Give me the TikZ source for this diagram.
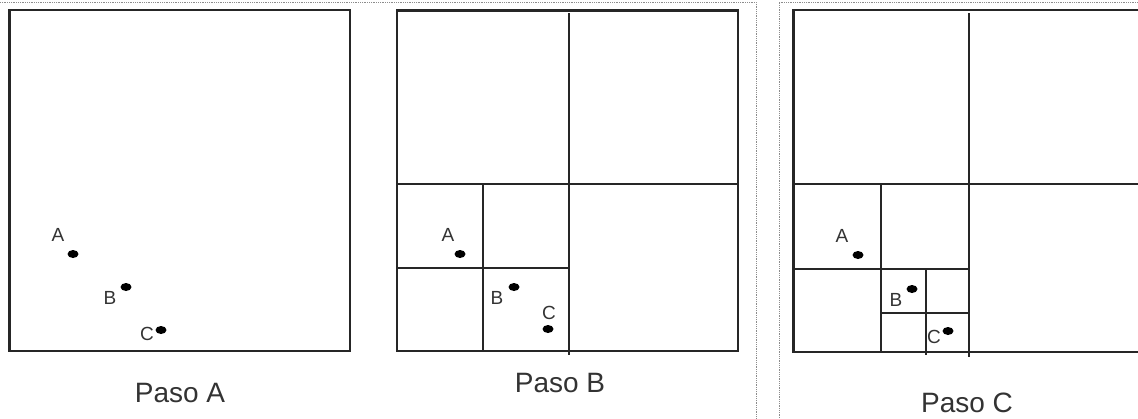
\documentclass[tikz,border=0pt]{standalone}
\usepackage{fontspec}
\setmainfont{Liberation Sans}
\usetikzlibrary{shapes.geometric}
\begin{document}
\begin{tikzpicture}[x=1pt,y=-1pt,
  grid/.style={line width=2.2pt,black!85},
  frame/.style={densely dotted,line width=0.8pt,black!45},
  pt/.style={ellipse,fill=black,minimum width=11pt,minimum height=8pt,inner sep=0pt},
  lbl/.style={inner sep=0pt,font=\fontsize{19}{19}\selectfont,text=black!80},
  pasotxt/.style={inner sep=0pt,font=\fontsize{28}{28}\selectfont,text=black!80}]
\useasboundingbox (0,0) rectangle (1138,418);
% frames
\draw[frame] (0,2) -- (756,2) -- (756,418);
\draw[frame] (779,418) -- (779,2) -- (1138,2);
% Panel A
\draw[grid] (9,10) rectangle (350,351);
\draw[line width=3pt,black!85] (9,10) -- (9,351);
\node[pt] (dA1) at (73,254) {};
\node[pt] (dB1) at (126,287) {};
\node[pt] (dC1) at (161,330) {};
\node[lbl] (lA1) at (58,235) {A};
\node[lbl] (lB1) at (110,298) {B};
\node[lbl] (lC1) at (147,334) {C};
\node[pasotxt] (capA) at (180,393) {Paso A};
% Panel B
\draw[grid] (397,10.5) rectangle (738,351);
\draw[grid] (569,13) -- (569,355);
\draw[grid] (397,184) -- (738,184);
\draw[grid] (483,183) -- (483,351);
\draw[grid] (397,268) -- (568,268);
\node[pt] (dA2) at (460,254) {};
\node[pt] (dB2) at (514,287) {};
\node[pt] (dC2) at (548,329) {};
\node[lbl] (lA2) at (448,235) {A};
\node[lbl] (lB2) at (497,298) {B};
\node[lbl] (lC2) at (549,313) {C};
\node[pasotxt] (capB) at (560,383) {Paso B};
% Panel C
\draw[grid] (1140,10) -- (793,10) -- (793,352) -- (1140,352);
\draw[line width=3pt,black!85] (793,10) -- (793,352);
\draw[grid] (969,13) -- (969,357);
\draw[grid] (793,184) -- (1140,184);
\draw[grid] (881,183) -- (881,352);
\draw[grid] (793,269) -- (969,269);
\draw[grid] (926,269) -- (926,355);
\draw[grid] (881,313) -- (969,313);
\node[pt] (dA3) at (858,255) {};
\node[pt] (dB3) at (912,289) {};
\node[pt] (dC3) at (948,331) {};
\node[lbl] (lA3) at (842,236) {A};
\node[lbl] (lB3) at (896,300) {B};
\node[lbl] (lC3) at (934,337) {C};
\node[pasotxt] (capC) at (967,403) {Paso C};
\end{tikzpicture}
\end{document}
